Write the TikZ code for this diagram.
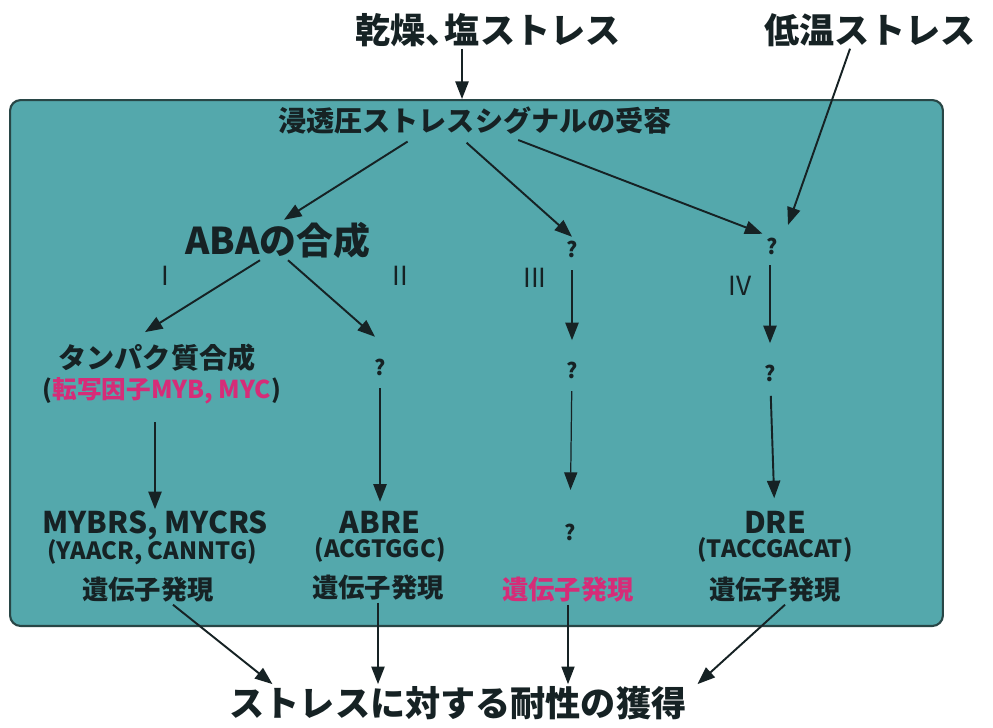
\documentclass[tikz,border=0pt]{standalone}
\usepackage{fontspec}
\setmainfont{Noto Sans CJK JP}
\usepackage{xcolor}
\usetikzlibrary{arrows.meta, positioning}

\definecolor{panelfill}{RGB}{84,168,172}
\definecolor{panelline}{RGB}{40,70,70}
\definecolor{inkdark}{RGB}{22,34,36}
\definecolor{pinkred}{RGB}{214,44,120}

\begin{document}
\begin{tikzpicture}[
    x=0.02cm, y=-0.02cm,
    panel/.style={rectangle, draw=panelline, fill=panelfill, line width=1.2pt, rounded corners=6pt},
    head/.style={font=\bfseries\fontsize{20}{24}\selectfont, text=inkdark, inner sep=1pt},
    mid/.style={font=\bfseries\fontsize{16}{19}\selectfont, text=inkdark, inner sep=1pt},
    big/.style={font=\bfseries\fontsize{21}{25}\selectfont, text=inkdark, inner sep=1pt},
    gene/.style={font=\bfseries\fontsize{17}{20}\selectfont, text=inkdark, inner sep=1pt},
    seq/.style={font=\bfseries\fontsize{13.5}{16}\selectfont, text=inkdark, inner sep=1pt},
    expr/.style={font=\bfseries\fontsize{15}{18}\selectfont, text=inkdark, inner sep=1pt},
    qmark/.style={font=\bfseries\fontsize{12}{14}\selectfont, text=inkdark, inner sep=2pt},
    roman/.style={font=\fontsize{15}{16}\selectfont, text=inkdark, inner sep=1pt},
    arrow/.style={-{Triangle[length=10pt, width=7.5pt]}, line width=1.1pt, draw=inkdark},
    thin/.style={line width=0.7pt}
]
    \useasboundingbox[fill=white] (0,0) rectangle (993,727);

    % Panel
    \node[panel, minimum width=18.66cm, minimum height=10.52cm] (panel) at (476.5,363) {};

    % Stress inputs
    \node[head] (drought) at (488,30) {乾燥、\kern-0.45em 塩ストレス};
    \node[head] (cold) at (870,30) {低温ストレス};
    \node[mid] (recept) at (475,121) {浸透圧ストレスシグナルの受容};

    % Second row
    \node[big] (aba) at (278,240) {ABAの合成};
    \node[qmark] (q3a) at (572,249) {?};
    \node[qmark] (q4a) at (772,246) {?};

    % Pathway numbers
    \node[roman] (r1) at (165,276) {I};
    \node[roman] (r2) at (400,276) {II};
    \node[roman] (r3) at (535,278) {III};
    \node[roman] (r4) at (740,286) {IV};

    % Third row
    \node[mid] (protein) at (157,358) {タンパク質合成};
    \node[seq, font=\bfseries\fontsize{14}{16}\selectfont] (tf) at (162,391) {(\textcolor{pinkred}{転写因子MYB, MYC})};
    \node[qmark] (q2) at (380,367) {?};
    \node[qmark] (q3b) at (572,370) {?};
    \node[qmark] (q4b) at (770,373) {?};

    % Elements
    \node[gene] (mybrs) at (155,526) {MYBRS, MYCRS};
    \node[seq] (mybseq) at (152,552) {(YAACR, CANNTG)};
    \node[gene] (abre) at (380,522) {ABRE};
    \node[seq] (abreseq) at (380,550) {(ACGTGGC)};
    \node[qmark] (q3c) at (570,532) {?};
    \node[gene] (dre) at (775,522) {DRE};
    \node[seq] (dreseq) at (775,550) {(TACCGACAT)};

    % Gene expression
    \node[expr] (e1) at (148,590) {遺伝子発現};
    \node[expr] (e2) at (378,588) {遺伝子発現};
    \node[expr, text=pinkred] (e3) at (568,590) {遺伝子発現};
    \node[expr] (e4) at (775,590) {遺伝子発現};

    % Result
    \node[head] (tol) at (458,703) {ストレスに対する耐性の獲得};

    % Inputs into the panel
    \draw[arrow] ([xshift=-0.52cm]drought.south) -- ([xshift=-0.52cm]drought.south |- panel.north);
    \draw[arrow] ([xshift=-0.4cm]cold.south) -- ([xshift=0.32cm, yshift=0.42cm]q4a.center);

    % Branches from the receptor
    \draw[arrow, shorten <=5pt] ([xshift=-1.2cm]recept.south) -- ([xshift=0.12cm]aba.north);
    \draw[arrow, shorten <=5pt] ([xshift=-0.3cm]recept.south) -- (q3a.north);
    \draw[arrow, shorten <=5pt] ([xshift=0.7cm]recept.south) -- (q4a.north west);

    % ABA branches
    \draw[arrow] ([xshift=-0.36cm]aba.south) -- ([xshift=-0.24cm, yshift=0.2cm]protein.north);
    \draw[arrow] ([xshift=0.2cm]aba.south) -- ([xshift=-0.1cm, yshift=0.36cm]q2.north);

    % Vertical chains
    \draw[arrow, shorten <=9pt] (tf.south -| mybrs.north) -- (mybrs.north);
    \draw[arrow, shorten <=5pt, shorten >=4pt] (q2) -- (abre);
    \draw[arrow, shorten <=5pt, shorten >=10pt] (q3a) -- (q3b);
    \draw[arrow, thin, shorten <=5pt, shorten >=17pt] (q3b) -- (q3c);
    \draw[arrow, shorten <=4pt, shorten >=10pt] (q4a.south -| q4b) -- (q4b);
    \draw[arrow, shorten <=6pt, shorten >=6pt] (q4b) -- (dre);

    % Into the result
    \draw[arrow] ([xshift=0.5cm]e1.south) -- ([xshift=0.9cm]tol.north west);
    \draw[arrow] (e2.south) -- (e2.south |- tol.north);
    \draw[arrow, thin] (e3.south) -- (e3.south |- tol.north);
    \draw[arrow] ([xshift=0.2cm]e4.south) -- ([xshift=0.18cm]tol.north east);
\end{tikzpicture}
\end{document}
